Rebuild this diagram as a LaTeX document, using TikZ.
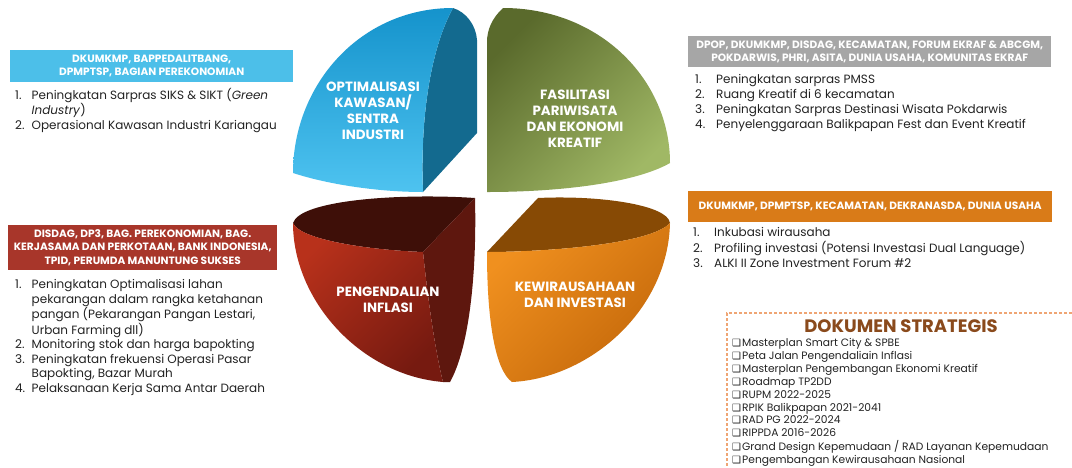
\documentclass[tikz,border=0pt]{standalone}
\usepackage{fontspec}
\setmainfont{Poppins}
\newfontfamily\dejavu{DejaVu Sans}
\definecolor{boxblue}{HTML}{4CBFE9}
\definecolor{boxred}{HTML}{A8362A}
\definecolor{boxgrey}{HTML}{A6A6A6}
\definecolor{boxorange}{HTML}{D97B18}
\definecolor{docbrown}{HTML}{8A4A1C}
\definecolor{dashcol}{HTML}{EFA574}
\definecolor{txt}{HTML}{222222}
\definecolor{blueA}{HTML}{1593CC}
\definecolor{blueB}{HTML}{4EC3F0}
\definecolor{blueSide}{HTML}{136A8F}
\definecolor{greenA}{HTML}{5A6A2C}
\definecolor{greenB}{HTML}{A0B865}
\definecolor{redTop}{HTML}{3E0F08}
\definecolor{redSide}{HTML}{5E170E}
\definecolor{redA}{HTML}{B8311B}
\definecolor{redB}{HTML}{761A10}
\definecolor{orTop}{HTML}{874A05}
\definecolor{orA}{HTML}{F0901F}
\definecolor{orB}{HTML}{C4680A}
\tikzset{
  hdr/.style={font=\fontsize{10.6}{13.3}\selectfont\bfseries, text=white, align=center, inner sep=0pt, anchor=north west},
  lst/.style={font=\fontsize{12}{14.6}\selectfont, text=txt, anchor=base west, inner sep=0pt},
  lbl/.style={font=\fontsize{13.4}{16}\selectfont\bfseries, text=white, align=center, inner sep=0pt},
  doclst/.style={font=\fontsize{10.7}{12.87}\selectfont, text=txt, anchor=base west, inner sep=0pt},
}
\newcommand{\bx}{{\dejavu\fontsize{10}{10}\selectfont ❑}\kern1pt}
\begin{document}
\begin{tikzpicture}[x=1pt,y=-1pt]
\useasboundingbox (0,0) rectangle (1072,467);

% ---------- blue quarter ----------
\fill[blueSide] (453,8) .. controls (466,12) and (476,25) .. (477,40) -- (477,133) -- (423,192)
  .. controls (420,120) and (430,50) .. (453,8) -- cycle;
\shade[top color=blueA, bottom color=blueB] (453,8) .. controls (360,8) and (293,85) .. (293,173)
  .. controls (330,185) and (380,192) .. (423,192) .. controls (420,120) and (430,50) .. (453,8) -- cycle;

% ---------- green quarter ----------
\shade[top color=greenA, bottom color=greenB, shading angle=45] (503,8) .. controls (492,18) and (487,30) .. (487,42)
  -- (487,192) .. controls (560,192) and (635,183) .. (670,163) .. controls (670,80) and (600,8) .. (503,8) -- cycle;

% ---------- red quarter ----------
\fill[redTop] (293,223) .. controls (300,200) and (400,193) .. (475,198) -- (423,252)
  .. controls (370,250) and (300,240) .. (293,223) -- cycle;
\fill[redSide] (475,198) .. controls (477,280) and (468,350) .. (450,382) -- (443,382)
  .. controls (435,350) and (428,300) .. (423,252) -- cycle;
\shade[top color=redA, bottom color=redB, shading angle=45] (293,223) .. controls (300,240) and (370,250) .. (423,252)
  .. controls (428,300) and (435,350) .. (443,382) .. controls (360,375) and (293,300) .. (293,223) -- cycle;

% ---------- orange quarter ----------
\fill[orTop] (487,252) -- (538,198) .. controls (600,195) and (668,205) .. (670,223)
  .. controls (650,245) and (540,252) .. (487,252) -- cycle;
\shade[top color=orA, bottom color=orB, shading angle=45] (487,252) .. controls (540,252) and (650,245) .. (670,223)
  .. controls (668,310) and (590,378) .. (512,382) .. controls (495,370) and (487,320) .. (487,252) -- cycle;

% ---------- quarter labels ----------
\node[lbl] (t1) at (373,111) {OPTIMALISASI\\KAWASAN/\\SENTRA\\INDUSTRI};
\node[lbl] (t2) at (575,119) {FASILITASI\\PARIWISATA\\DAN EKONOMI\\KREATIF};
\node[lbl] (t3) at (388,300) {PENGENDALIAN\\INFLASI};
\node[lbl] (t4) at (575,295) {KEWIRAUSAHAAN\\DAN INVESTASI};

% ---------- header boxes ----------
\node[fill=boxblue, minimum width=283pt, minimum height=32pt, anchor=north west, inner sep=0pt] (hb) at (10,50) {};
\node[hdr, anchor=center] (hbt) at (hb.center) {DKUMKMP, BAPPEDALITBANG,\\DPMPTSP, BAGIAN PEREKONOMIAN};

\node[fill=boxred, minimum width=269pt, minimum height=45pt, anchor=north west, inner sep=0pt] (hr) at (8,225) {};
\node[hdr, anchor=center] (hrt) at (hr.center) {DISDAG, DP3, BAG. PEREKONOMIAN, BAG.\\KERJASAMA DAN PERKOTAAN, BANK INDONESIA,\\TPID, PERUMDA MANUNTUNG SUKSES};

\node[fill=boxgrey, minimum width=363pt, minimum height=31pt, anchor=north west, inner sep=0pt] (hg) at (688,36) {};
\node[hdr, anchor=center] (hgt) at (hg.center) {DPOP, DKUMKMP, DISDAG, KECAMATAN, FORUM EKRAF \& ABCGM,\\POKDARWIS, PHRI, ASITA, DUNIA USAHA, KOMUNITAS EKRAF};

\node[fill=boxorange, minimum width=364pt, minimum height=31pt, anchor=north west, inner sep=0pt] (ho) at (688,191) {};
\node[hdr, anchor=center] (hot) at (ho.center) {DKUMKMP, DPMPTSP, KECAMATAN, DEKRANASDA, DUNIA USAHA};

% ---------- lists ----------
\node[lst, font=\fontsize{12}{14.6}\selectfont] (lb) at (15,99) {\begin{tabular}[t]{@{}p{16.5pt}@{}l@{}}
1.&Peningkatan Sarpras SIKS \& SIKT (\textit{Green}\\
&\textit{Industry})\\
2.&Operasional Kawasan Industri Kariangau
\end{tabular}};

\node[lst, font=\fontsize{12}{14.53}\selectfont] (lr) at (15,288.5) {\begin{tabular}[t]{@{}p{16.5pt}@{}l@{}}
1.&Peningkatan Optimalisasi lahan\\
&pekarangan dalam rangka ketahanan\\
&pangan (Pekarangan Pangan Lestari,\\
&Urban Farming dll)\\
2.&Monitoring stok dan harga bapokting\\
3.&Peningkatan frekuensi Operasi Pasar\\
&Bapokting, Bazar Murah\\
4.&Pelaksanaan Kerja Sama Antar Daerah
\end{tabular}};

\node[lst, font=\fontsize{12}{15}\selectfont] (lg) at (695,83.3) {\begin{tabular}[t]{@{}p{21pt}@{}l@{}}
1.&Peningkatan sarpras PMSS\\
2.&Ruang Kreatif di 6 kecamatan\\
3.&Peningkatan Sarpras Destinasi Wisata Pokdarwis\\
4.&Penyelenggaraan Balikpapan Fest dan Event Kreatif
\end{tabular}};

\node[lst, font=\fontsize{12}{15}\selectfont] (lo) at (693,236.5) {\begin{tabular}[t]{@{}p{21pt}@{}l@{}}
1.&Inkubasi wirausaha\\
2.&Profiling investasi (Potensi Investasi Dual Language)\\
3.&ALKI II Zone Investment Forum \#2
\end{tabular}};

% ---------- dokumen strategis ----------
\coordinate (d0) at (727,313);
\coordinate (d1) at (1072,313);
\coordinate (d2) at (727,467);
\draw[dashcol, line width=1.2pt, dash pattern=on 3pt off 2pt] (d1) -- (d0) -- (d2);

\node[font=\fontsize{18}{20}\selectfont\bfseries, text=docbrown, inner sep=0pt, anchor=base] (dt) at (901,332) {DOKUMEN STRATEGIS};

\node[doclst] (dl) at (732,346.7) {\begin{tabular}[t]{@{}l@{}}
\bx Masterplan Smart City \& SPBE\\
\bx Peta Jalan Pengendaliain Inflasi\\
\bx Masterplan Pengembangan Ekonomi Kreatif\\
\bx Roadmap TP2DD\\
\bx RUPM 2022-2025\\
\bx RPIK Balikpapan 2021-2041\\
\bx RAD PG 2022-2024\\
\bx RIPPDA 2016-2026\\
\bx Grand Design Kepemudaan / RAD Layanan Kepemudaan\\
\bx Pengembangan Kewirausahaan Nasional
\end{tabular}};
\end{tikzpicture}
\end{document}
